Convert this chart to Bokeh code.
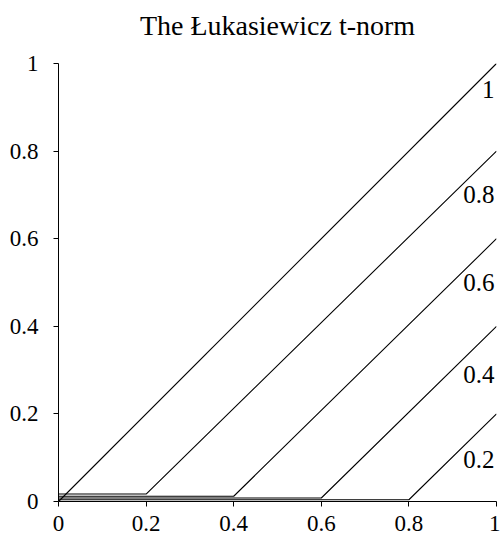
from bokeh.plotting import figure
from bokeh.models import Range1d, FixedTicker, Label, Title
from bokeh.embed import file_html
from bokeh.resources import INLINE

# data
levels = [1.0, 0.8, 0.6, 0.4, 0.2]          # value of the second argument
floor_y = [0.0, 0.017, 0.012, 0.008, 0.004]  # drawn height of the flat (zero) part
label_text = ["1", "0.8", "0.6", "0.4", "0.2"]
label_y = [0.94, 0.70, 0.50, 0.29, 0.095]
ticks = [0, 0.2, 0.4, 0.6, 0.8, 1]
tick_labels = ["0", "0.2", "0.4", "0.6", "0.8", "1"]
title_text = "The Łukasiewicz t-norm"

FONT = "Liberation Serif"

p = figure(width=500, height=541, output_backend="svg", toolbar_location=None,
           x_range=Range1d(0, 1), y_range=Range1d(0, 1),
           min_border_left=58, min_border_right=4, min_border_top=63, min_border_bottom=40)
p.outline_line_color = None
p.xgrid.visible = False
p.ygrid.visible = False
p.background_fill_color = "white"
p.border_fill_color = "white"

# spacer between frame and title, then the title itself
spacer = Title(text=" ", text_font_size="10px", standoff=0)
p.add_layout(spacer, "above")
t = Title(text=title_text, align="center", vertical_align="top",
          text_font=FONT, text_font_size="28px", text_font_style="normal",
          text_color="black", standoff=16)
p.add_layout(t, "above")

for b, f in zip(levels, floor_y):
    xs = [0, 1 - b, 1]
    ys = [f, f, b]
    p.line(xs, ys, line_color="black", line_width=1.1)

for txt, ly in zip(label_text, label_y):
    p.add_layout(Label(x=1, y=ly, text=txt, text_align="right", text_baseline="middle",
                       x_offset=-2, text_font=FONT, text_font_size="25px", text_color="black"))

overrides = {tk: lb for tk, lb in zip(ticks, tick_labels)}
for ax in (p.xaxis[0], p.yaxis[0]):
    ax.ticker = FixedTicker(ticks=ticks)
    ax.major_label_overrides = overrides
    ax.minor_tick_line_color = None
    ax.major_tick_in = 0
    ax.major_tick_out = 5
    ax.axis_line_color = "black"
    ax.major_tick_line_color = "black"
    ax.major_label_text_font = FONT
    ax.major_label_text_font_size = "23px"
    ax.major_label_text_color = "black"
p.xaxis[0].major_label_standoff = 9
p.yaxis[0].major_label_standoff = 15

open("out.html", "w").write(file_html(p, INLINE))
